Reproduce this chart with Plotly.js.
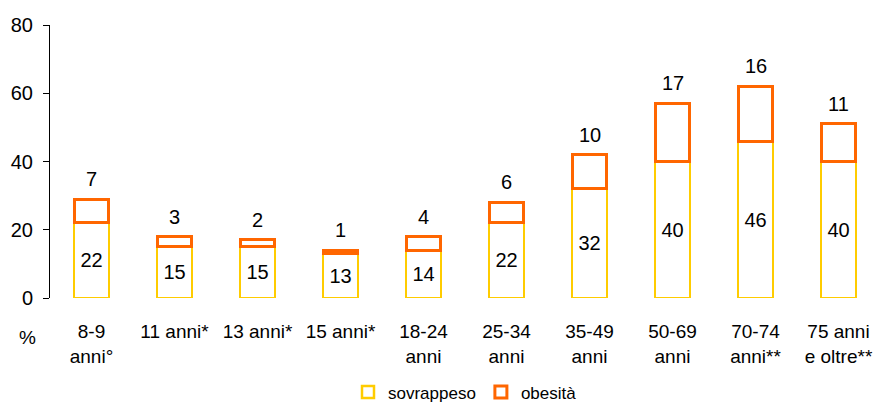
<!DOCTYPE html>
<html>
<head>
<meta charset="utf-8">
<script src="https://cdn.plot.ly/plotly-3.0.1.min.js"></script>
<style>html,body{margin:0;padding:0;background:#fff;}#chart{width:880px;height:407px;}</style>
</head>
<body>
<div id="chart"></div>
<script>
const categories = ["8-9<br>anni°", "11 anni*", "13 anni*", "15 anni*", "18-24<br>anni", "25-34<br>anni", "35-49<br>anni", "50-69<br>anni", "70-74<br>anni**", "75 anni<br>e oltre**"];
const sovrappeso = [22, 15, 15, 13, 14, 22, 32, 40, 46, 40];
const obesita = [7, 3, 2, 1, 4, 6, 10, 17, 16, 11];
const yTicks = [0, 20, 40, 60, 80];

const font = {family: "Liberation Sans, Arial, sans-serif", size: 20, color: "#000"};
const catFont = {family: "Liberation Sans, Arial, sans-serif", size: 19, color: "#000"};
const legFont = {family: "Liberation Sans, Arial, sans-serif", size: 17, color: "#000"};

const traces = [
  {
    type: "bar", name: "sovrappeso", x: categories, y: sovrappeso,
    marker: {color: "#ffffff", line: {color: "#FFCC00", width: 2.5}},
    text: sovrappeso.map(String), textposition: "inside", insidetextanchor: "middle",
    insidetextfont: font, constraintext: "none", hoverinfo: "skip"
  },
  {
    type: "bar", name: "obesità", x: categories, y: obesita,
    marker: {color: "#ffffff", line: {color: "#FF6600", width: 3}},
    textposition: "none", hoverinfo: "skip"
  }
];

const annotations = categories.map((c, i) => ({
  x: c, y: sovrappeso[i] + obesita[i], xref: "x", yref: "y",
  text: String(obesita[i]), showarrow: false, yanchor: "bottom", yshift: 7, font: font
}));
annotations.push({text: "%", xref: "paper", yref: "paper", x: -0.027, y: -0.145, xanchor: "center", yanchor: "middle", showarrow: false, font: catFont});

const layout = {
  width: 880, height: 407,
  margin: {l: 50, r: 0, t: 25, b: 109, autoexpand: false},
  barmode: "stack", bargap: 0.58,
  paper_bgcolor: "#fff", plot_bgcolor: "#fff",
  font: font,
  showlegend: true,
  legend: {orientation: "h", x: 0.5, xanchor: "center", y: -0.28, yanchor: "top", font: legFont, itemwidth: 30, traceorder: "normal"},
  xaxis: {
    type: "category", showline: false, showgrid: false, zeroline: false, ticks: "",
    ticklabelstandoff: 20, tickfont: catFont, automargin: false
  },
  yaxis: {
    range: [0, 80], tickvals: yTicks, showline: true, linecolor: "#000", linewidth: 1,
    ticks: "outside", ticklen: 6, tickcolor: "#000", showgrid: false, zeroline: false,
    tickfont: font, ticklabelstandoff: 6, automargin: false
  },
  annotations: annotations
};

Plotly.newPlot("chart", traces, layout, {displayModeBar: false, staticPlot: true});
</script>
</body>
</html>
